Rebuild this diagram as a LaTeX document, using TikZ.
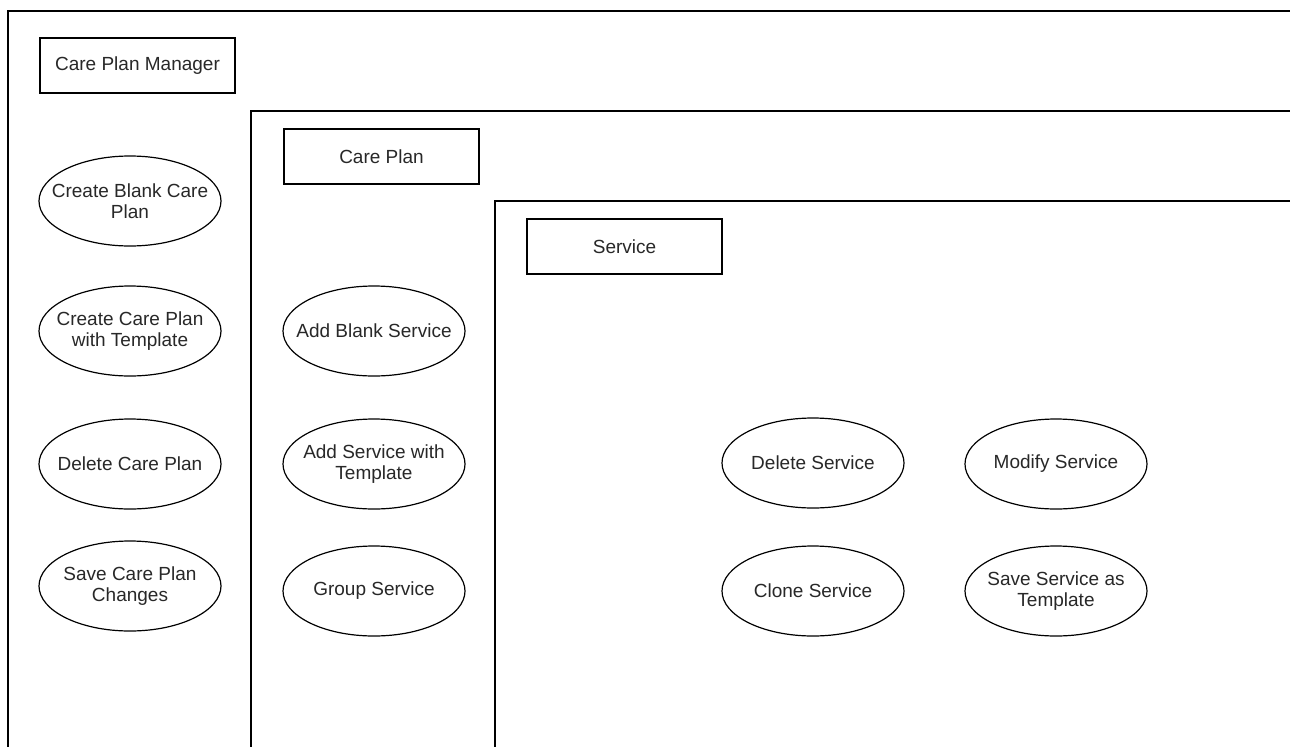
\documentclass[tikz,border=0pt]{standalone}
\usepackage{fontspec}
\setmainfont{Liberation Sans}
\usetikzlibrary{shapes.geometric}
\definecolor{txt}{RGB}{40,40,40}
\begin{document}
\begin{tikzpicture}[x=1pt,y=-1pt,
  frame/.style={line width=1.4pt,draw=black},
  titlebox/.style={draw=black,line width=1.2pt,minimum width=195pt,minimum height=55pt,inner sep=0pt,text=txt,font=\fontsize{19}{21}\selectfont},
  usecase/.style={draw=black,line width=1.2pt,ellipse,minimum width=182pt,minimum height=90pt,inner xsep=-60pt,inner ysep=-10pt,text=txt,align=center,font=\fontsize{19}{21}\selectfont}]
\useasboundingbox (0,0) rectangle (1290,747);
\fill[white] (0,0) rectangle (1290,747);
% frames
\draw[frame] (1290,11) -- (8,11) -- (8,747);
\draw[frame] (1290,111) -- (251,111) -- (251,747);
\draw[frame] (1290,201) -- (495,201) -- (495,747);
% titles
\node[titlebox] (cpm) at (137.5,65.5) {Care Plan Manager};
\node[titlebox] (cp) at (381.5,156.5) {Care Plan};
\node[titlebox] (sv) at (624.5,246.5) {Service};
% left column
\node[usecase] (u1) at (130,201) {Create Blank Care\\Plan};
\node[usecase] (u2) at (130,331) {Create Care Plan\\with Template};
\node[usecase] (u3) at (130,464) {Delete Care Plan};
\node[usecase] (u4) at (130,586) {Save Care Plan\\Changes};
% middle column
\node[usecase] (m1) at (374,331) {Add Blank Service};
\node[usecase] (m2) at (374,464) {Add Service with\\Template};
\node[usecase] (m3) at (374,591) {Group Service};
% service
\node[usecase] (s1) at (813,463) {Delete Service};
\node[usecase] (s2) at (1056,464) {Modify Service};
\node[usecase] (s3) at (813,591) {Clone Service};
\node[usecase] (s4) at (1056,591) {Save Service as\\Template};
\end{tikzpicture}
\end{document}
